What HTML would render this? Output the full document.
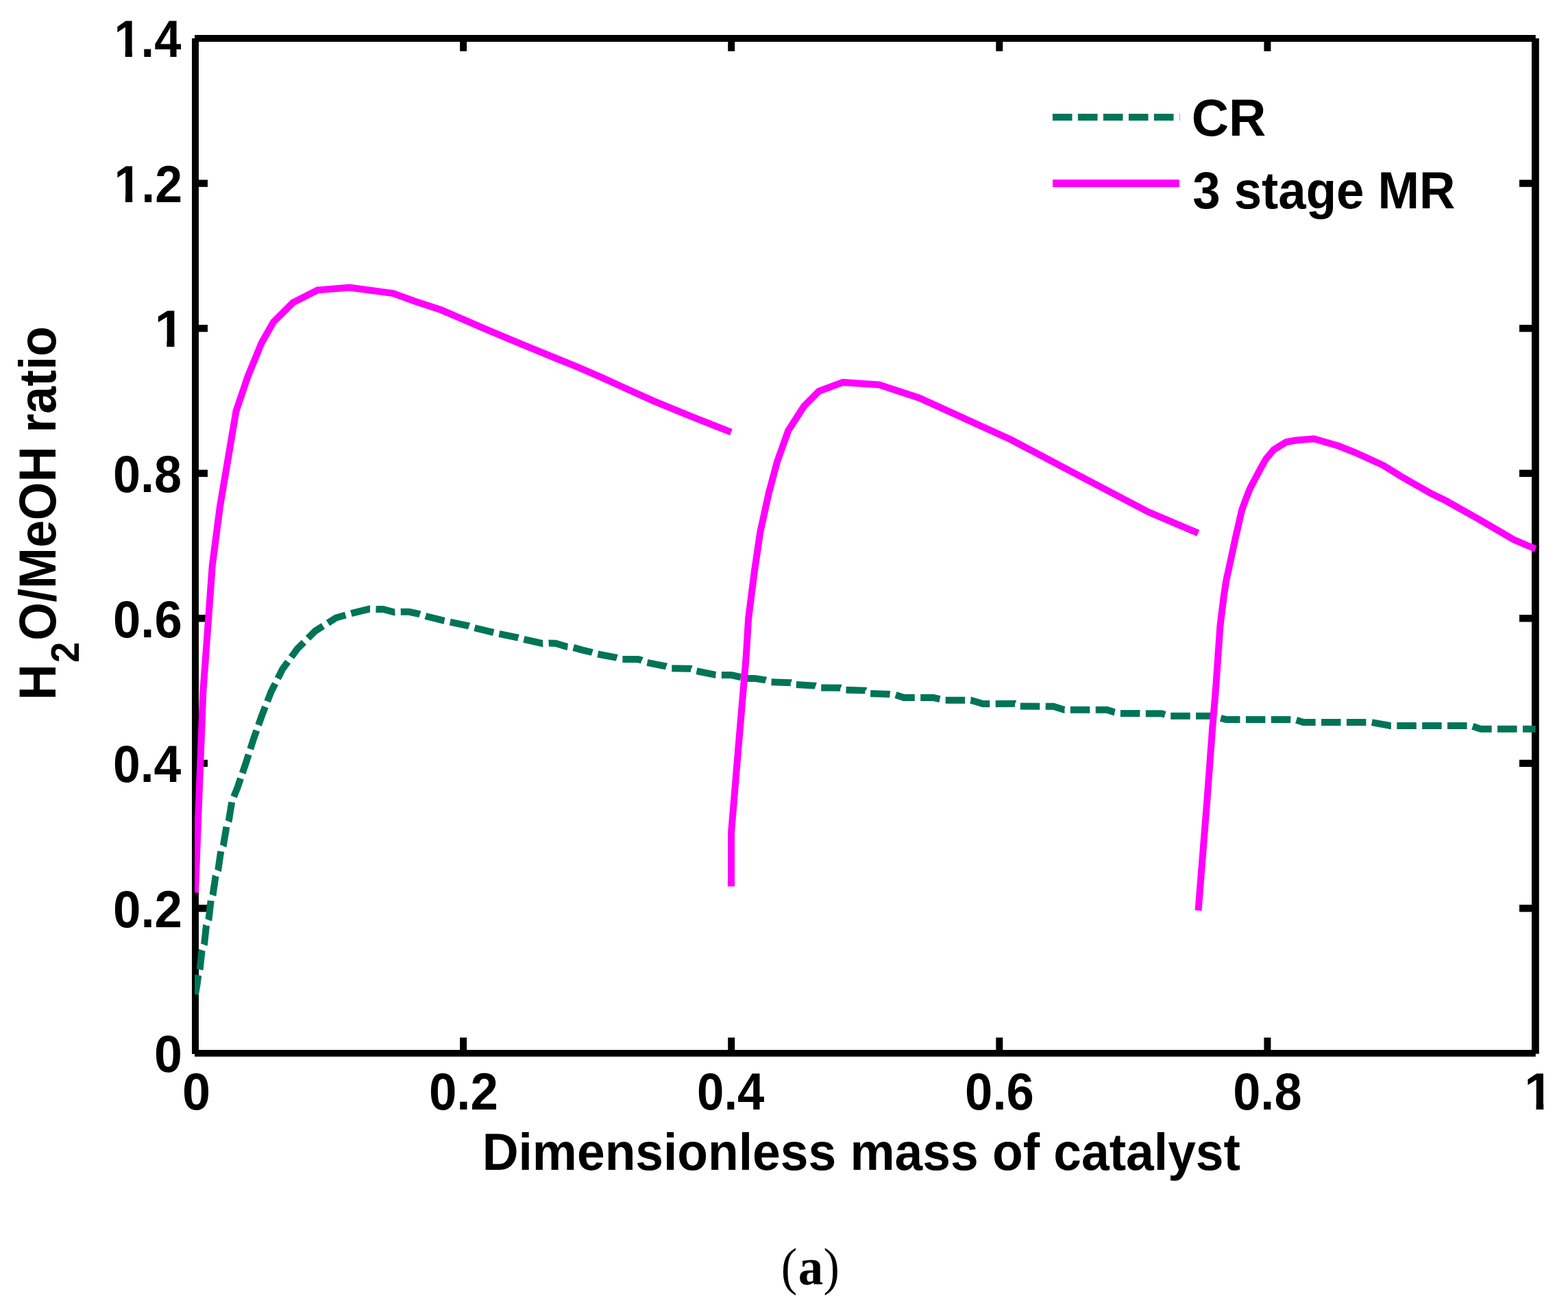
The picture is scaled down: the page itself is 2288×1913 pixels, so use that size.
<!DOCTYPE html>
<html><head><meta charset="utf-8"><title>H2O/MeOH ratio vs dimensionless mass of catalyst</title>
<style>html,body{margin:0;padding:0;background:#fff;}svg{display:block;}</style></head>
<body><svg width="2288" height="1913" viewBox="0 0 2288 1913"><defs><clipPath id="k0" clipPathUnits="userSpaceOnUse"><rect x="-500" y="-1000" width="2000" height="991.58"/><rect x="17.65" y="-50" width="11.02" height="100"/><rect x="41.42" y="-50" width="1000" height="100"/></clipPath><clipPath id="k1" clipPathUnits="userSpaceOnUse"><rect x="-500" y="-1000" width="2000" height="991.58"/><rect x="17.65" y="-50" width="11.02" height="100"/><rect x="41.42" y="-50" width="1000" height="100"/></clipPath><clipPath id="k2" clipPathUnits="userSpaceOnUse"><rect x="-500" y="-1000" width="2000" height="991.58"/><rect x="17.65" y="-50" width="11.02" height="100"/><rect x="41.42" y="-50" width="1000" height="100"/></clipPath><clipPath id="k3" clipPathUnits="userSpaceOnUse"><rect x="-500" y="-1000" width="2000" height="991.58"/><rect x="17.65" y="-50" width="11.02" height="100"/><rect x="41.42" y="-50" width="1000" height="100"/></clipPath></defs><g fill="#000"><rect x="280" y="56" width="10" height="1482" /><rect x="2235" y="56" width="10.8" height="1481.7" /><rect x="284" y="51" width="1956.8" height="10" /><rect x="284" y="1532" width="1956.8" height="9.8" /><rect x="290" y="262.37" width="13" height="10.4" /><rect x="2217" y="262.37" width="18" height="10.4" /><rect x="290" y="473.94" width="13" height="10.4" /><rect x="2217" y="473.94" width="18" height="10.4" /><rect x="290" y="685.51" width="13" height="10.4" /><rect x="2217" y="685.51" width="18" height="10.4" /><rect x="290" y="897.09" width="13" height="10.4" /><rect x="2217" y="897.09" width="18" height="10.4" /><rect x="290" y="1108.66" width="13" height="10.4" /><rect x="2217" y="1108.66" width="18" height="10.4" /><rect x="290" y="1320.23" width="13" height="10.4" /><rect x="2217" y="1320.23" width="18" height="10.4" /><rect x="671.10" y="61" width="10" height="13.7" /><rect x="671.10" y="1514" width="10" height="18" /><rect x="1062.20" y="61" width="10" height="13.7" /><rect x="1062.20" y="1514" width="10" height="18" /><rect x="1453.30" y="61" width="10" height="13.7" /><rect x="1453.30" y="1514" width="10" height="18" /><rect x="1844.40" y="61" width="10" height="13.7" /><rect x="1844.40" y="1514" width="10" height="18" /></g><defs><clipPath id="c"><rect x="284" y="51" width="1962" height="1491"/></clipPath></defs><g clip-path="url(#c)" fill="none" stroke-linejoin="miter" stroke-linecap="butt"><polyline points="285.0,1451.0 287.5,1437.0 289.3,1423.3 291.8,1413.3 294.6,1386.9 298.2,1376.9 301.0,1350.5 304.6,1341.3 307.7,1314.0 310.6,1305.8 314.6,1278.5 318.3,1269.4 322.3,1242.0 325.9,1233.8 330.5,1206.1 333.8,1197.7 338.3,1170.0 346.6,1149.0 358.7,1113.7 369.9,1078.6 382.3,1043.5 395.7,1009.2 412.1,976.5 433.7,947.0 460.0,920.7 490.3,901.5 512.4,895.2 539.0,888.6 548.6,889.0 559.0,889.0 575.2,893.3 584.8,892.8 597.1,892.8 612.4,896.2 621.0,899.0 647.6,905.7 656.2,907.6 683.8,913.3 692.4,916.2 720.0,922.9 727.6,924.8 756.2,930.5 763.8,932.8 791.4,939.0 801.0,938.5 810.5,938.7 827.6,943.8 836.2,944.8 850.0,948.6 863.3,951.7 871.4,954.3 899.5,959.5 907.4,961.9 931.0,962.1 936.2,963.3 943.6,966.7 971.9,972.4 979.5,975.2 1008.1,975.8 1015.7,979.0 1044.3,984.8 1052.3,985.1 1067.1,985.1 1080.5,988.0 1091.9,989.9 1101.4,989.9 1116.7,992.4 1125.2,995.2 1153.8,996.2 1160.5,999.0 1189.0,1000.6 1197.0,1003.4 1226.2,1003.8 1232.9,1006.7 1262.4,1007.6 1269.4,1012.0 1298.1,1012.9 1306.1,1013.8 1319.0,1018.0 1334.3,1018.0 1361.9,1018.0 1371.0,1020.1 1378.7,1021.8 1416.6,1021.8 1434.3,1027.1 1481.0,1026.8 1488.6,1030.4 1537.1,1030.8 1553.0,1035.7 1615.2,1035.7 1625.7,1039.1 1634.3,1040.9 1695.2,1041.3 1706.7,1044.8 1775.0,1044.8 1780.4,1047.6 1789.5,1050.1 1882.9,1050.1 1890.9,1050.5 1901.9,1054.0 2001.0,1054.0 2028.6,1059.0 2146.9,1059.0 2160.5,1063.7 2240.5,1063.7" stroke="#007458" stroke-width="10" stroke-dasharray="28.5 8.4"/><polyline points="285.0,1302.6 296.3,1010.0 304.5,898.4 309.8,825.0 321.0,739.0 344.5,600.0 362.1,548.0 381.8,500.2 398.9,470.0 427.4,441.6 463.3,423.3 510.0,419.6 573.7,428.1 605.7,439.8 643.8,452.3 674.3,465.3 710.0,480.8 763.3,503.1 816.7,525.0 840.0,534.4 878.1,550.9 916.2,568.2 954.3,585.3 1000.0,604.2 1066.9,630.7" stroke="#ff00ff" stroke-width="10"/><polyline points="1067.0,1293.6 1067.0,1215.6 1077.2,1093.6 1088.6,960.0 1092.2,901.8 1100.9,833.4 1109.3,776.5 1121.8,719.5 1134.0,673.9 1150.2,628.4 1173.0,593.0 1195.0,570.7 1230.0,557.9 1282.9,561.4 1341.4,580.7 1475.0,641.5 1561.4,687.1 1675.7,747.1 1748.3,777.9" stroke="#ff00ff" stroke-width="10"/><polyline points="1748.5,1328.7 1761.6,1164.6 1769.2,1062.0 1774.4,1000.0 1777.4,956.4 1780.4,913.7 1785.6,870.9 1789.3,847.0 1795.3,819.7 1802.6,785.5 1808.5,760.0 1812.0,744.5 1817.9,728.3 1824.1,712.7 1832.3,697.0 1840.7,681.3 1847.9,668.8 1858.6,656.3 1868.6,650.0 1876.7,645.0 1890.9,642.5 1917.3,640.3 1953.3,650.8 1976.7,660.0 1990.0,666.0 2018.0,678.8 2043.3,694.5 2063.3,706.0 2090.0,721.0 2110.0,730.8 2156.7,757.0 2209.0,787.5 2240.5,801.0" stroke="#ff00ff" stroke-width="10"/></g><line x1="1535.9" y1="170.9" x2="1721.4" y2="170.9" stroke="#007458" stroke-width="10" stroke-dasharray="28.6 8.4"/><rect x="1536" y="262" width="185" height="11" fill="#ff00ff"/><g fill="#000"><text transform="translate(166.46,83.30) scale(0.9182,1)" clip-path="url(#k0)" font-family="'Liberation Sans',sans-serif" font-weight="bold" font-size="76.7" >1.4</text><text transform="translate(166.39,294.87) scale(0.9340,1)" clip-path="url(#k1)" font-family="'Liberation Sans',sans-serif" font-weight="bold" font-size="76.7" >1.2</text><text transform="translate(225.40,506.44) scale(1.0150,1)" clip-path="url(#k2)" font-family="'Liberation Sans',sans-serif" font-weight="bold" font-size="76.7" >1</text><text transform="translate(165.02,718.01) scale(0.9381,1)" font-family="'Liberation Sans',sans-serif" font-weight="bold" font-size="76.7" >0.8</text><text transform="translate(165.00,929.59) scale(0.9446,1)" font-family="'Liberation Sans',sans-serif" font-weight="bold" font-size="76.7" >0.6</text><text transform="translate(165.04,1141.16) scale(0.9315,1)" font-family="'Liberation Sans',sans-serif" font-weight="bold" font-size="76.7" >0.4</text><text transform="translate(164.99,1352.73) scale(0.9475,1)" font-family="'Liberation Sans',sans-serif" font-weight="bold" font-size="76.7" >0.2</text><text transform="translate(224.95,1564.30) scale(0.9607,1)" font-family="'Liberation Sans',sans-serif" font-weight="bold" font-size="76.7" >0</text><text transform="translate(265.94,1619.00) scale(0.9634,1)" font-family="'Liberation Sans',sans-serif" font-weight="bold" font-size="76.7" >0</text><text transform="translate(625.89,1619.00) scale(0.9475,1)" font-family="'Liberation Sans',sans-serif" font-weight="bold" font-size="76.7" >0.2</text><text transform="translate(1017.07,1619.00) scale(0.9228,1)" font-family="'Liberation Sans',sans-serif" font-weight="bold" font-size="76.7" >0.4</text><text transform="translate(1408.10,1619.00) scale(0.9446,1)" font-family="'Liberation Sans',sans-serif" font-weight="bold" font-size="76.7" >0.6</text><text transform="translate(1799.21,1619.00) scale(0.9410,1)" font-family="'Liberation Sans',sans-serif" font-weight="bold" font-size="76.7" >0.8</text><text transform="translate(2224.28,1619.00) scale(0.9768,1)" clip-path="url(#k3)" font-family="'Liberation Sans',sans-serif" font-weight="bold" font-size="76.7" >1</text><text transform="translate(703.70,1707.00) scale(0.9541,1)" font-family="'Liberation Sans',sans-serif" font-weight="bold" font-size="76.7" >Dimensionless mass of catalyst</text><text transform="translate(1738.71,197.70) scale(0.9811,1)" font-family="'Liberation Sans',sans-serif" font-weight="bold" font-size="76.7" >CR</text><text transform="translate(1740.13,303.80) scale(0.9469,1)" font-family="'Liberation Sans',sans-serif" font-weight="bold" font-size="76.7" >3 stage MR</text></g><g transform="translate(81.1,1016.8) rotate(-90)" fill="#000" font-family="'Liberation Sans',sans-serif" font-weight="bold"><text transform="translate(-4.89,0.00) scale(0.9512,1)" font-size="76.7">H</text><text transform="translate(49.90,33.90) scale(0.9453,1)" font-size="57.4">2</text><text transform="translate(82.16,0.00) scale(0.9358,1)" font-size="76.7">O/MeOH ratio</text></g><text transform="translate(1139.80,1874.20) scale(0.9243,1)" font-family="'Liberation Serif',serif" font-weight="normal" font-size="76.2" >(</text><text transform="translate(1164.67,1874.20) scale(0.9560,1)" font-family="'Liberation Serif',serif" font-weight="bold" font-size="76.2" >a</text><text transform="translate(1201.55,1874.20) scale(0.9243,1)" font-family="'Liberation Serif',serif" font-weight="normal" font-size="76.2" >)</text></svg></body></html>
